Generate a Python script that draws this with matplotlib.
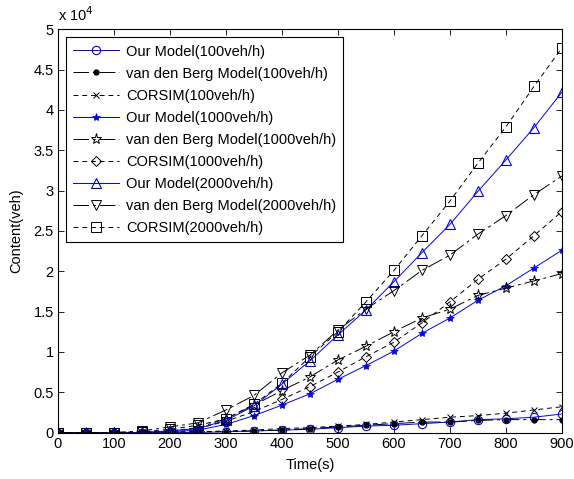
import matplotlib
matplotlib.use("Agg")
import matplotlib.pyplot as plt

plt.rcParams['font.family'] = ['Liberation Sans', 'DejaVu Sans']

time_s = [0, 50, 100, 150, 200, 250, 300, 350, 400, 450, 500, 550, 600, 650, 700, 750, 800, 850, 900]
# content values in units of 10^4 veh
our100 = [0, 0, 0, 0, 0, 0, 0.01, 0.02, 0.03, 0.04, 0.06, 0.08, 0.09, 0.11, 0.13, 0.16, 0.17, 0.19, 0.23]
vdb100 = [0, 0, 0, 0, 0.01, 0.01, 0.01, 0.02, 0.03, 0.05, 0.07, 0.09, 0.11, 0.13, 0.13, 0.15, 0.16, 0.16, 0.16]
cor100 = [0, 0, 0, 0, 0.01, 0.01, 0.02, 0.03, 0.05, 0.06, 0.08, 0.10, 0.13, 0.16, 0.19, 0.21, 0.24, 0.28, 0.32]
our1000 = [0, 0, 0, 0, 0.01, 0.03, 0.10, 0.21, 0.34, 0.48, 0.66, 0.83, 1.01, 1.23, 1.42, 1.64, 1.82, 2.04, 2.26]
vdb1000 = [0, 0, 0, 0, 0.02, 0.06, 0.17, 0.34, 0.52, 0.69, 0.90, 1.07, 1.25, 1.42, 1.53, 1.70, 1.79, 1.88, 1.97]
cor1000 = [0, 0, 0, 0, 0.02, 0.05, 0.14, 0.26, 0.41, 0.57, 0.75, 0.94, 1.12, 1.36, 1.62, 1.90, 2.15, 2.44, 2.74]
our2000 = [0, 0, 0, 0, 0.02, 0.05, 0.15, 0.33, 0.60, 0.89, 1.21, 1.52, 1.87, 2.23, 2.58, 2.99, 3.38, 3.78, 4.22]
vdb2000 = [0, 0, 0, 0.02, 0.07, 0.12, 0.28, 0.46, 0.74, 0.96, 1.27, 1.53, 1.76, 2.01, 2.20, 2.46, 2.69, 2.95, 3.18]
cor2000 = [0, 0, 0, 0.01, 0.04, 0.09, 0.17, 0.35, 0.61, 0.94, 1.25, 1.62, 2.01, 2.44, 2.87, 3.34, 3.79, 4.29, 4.77]

labels = ['Our Model(100veh/h)', 'van den Berg Model(100veh/h)', 'CORSIM(100veh/h)',
          'Our Model(1000veh/h)', 'van den Berg Model(1000veh/h)', 'CORSIM(1000veh/h)',
          'Our Model(2000veh/h)', 'van den Berg Model(2000veh/h)', 'CORSIM(2000veh/h)']
xticks = [0, 100, 200, 300, 400, 500, 600, 700, 800, 900]
yticks = [0, 0.5, 1, 1.5, 2, 2.5, 3, 3.5, 4, 4.5, 5]
ytick_labels = ['0', '0.5', '1', '1.5', '2', '2.5', '3', '3.5', '4', '4.5', '5']

FS = 10.5

fig = plt.figure(figsize=(5.74, 4.79), dpi=100)
ax = fig.add_axes([0.101, 0.097, 0.878, 0.842])

blue = '#0000ff'
vdb_dash = (0, (16, 4, 3, 4))
dash = (0, (5, 4))
lw = 0.7

ax.plot(time_s, our100, color=blue, lw=lw, marker='o', ms=6, mfc='none', mec=blue, mew=0.8, label=labels[0])
ax.plot(time_s, vdb100, color='black', lw=lw, ls=vdb_dash, marker='.', ms=7, mfc='black', label=labels[1])
ax.plot(time_s, cor100, color='black', lw=lw, ls=dash, marker='x', ms=4, mew=0.7, label=labels[2])
ax.plot(time_s, our1000, color=blue, lw=lw, marker='*', ms=6, mfc=blue, mec=blue, mew=0.5, label=labels[3])
ax.plot(time_s, vdb1000, color='black', lw=lw, ls=vdb_dash, marker='*', ms=8, mfc='none', mew=0.7, label=labels[4])
ax.plot(time_s, cor1000, color='black', lw=lw, ls=dash, marker='D', ms=5, mfc='none', mew=0.7, label=labels[5])
ax.plot(time_s, our2000, color=blue, lw=lw, marker='^', ms=7, mfc='none', mec=blue, mew=0.8, label=labels[6])
ax.plot(time_s, vdb2000, color='black', lw=lw, ls=vdb_dash, marker='v', ms=7, mfc='none', mew=0.7, label=labels[7])
ax.plot(time_s, cor2000, color='black', lw=lw, ls=dash, marker='s', ms=7, mfc='none', mew=0.7, label=labels[8])

ax.set_xlim(0, 900)
ax.set_ylim(0, 5)
ax.set_xticks(xticks)
ax.set_yticks(yticks)
ax.set_yticklabels(ytick_labels)
ax.tick_params(direction='in', top=True, right=True, labelsize=FS, length=4, width=0.6, pad=3)
for s in ax.spines.values():
    s.set_linewidth(0.8)

ax.set_xlabel('Time(s)', fontsize=FS, labelpad=5)
ax.set_ylabel('Content(veh)', fontsize=FS, labelpad=7)
ax.text(0.0, 1.012, r'x 10$^4$', transform=ax.transAxes, fontsize=FS, ha='left', va='bottom')

leg = ax.legend(loc='upper left', bbox_to_anchor=(0.016, 0.98), fontsize=FS, frameon=True, fancybox=False,
                edgecolor='black', framealpha=1, borderpad=0.5, labelspacing=0.55, handlelength=3.15,
                handletextpad=0.45, borderaxespad=0)
leg.get_frame().set_linewidth(0.8)

fig.savefig('out.png', dpi=100)
